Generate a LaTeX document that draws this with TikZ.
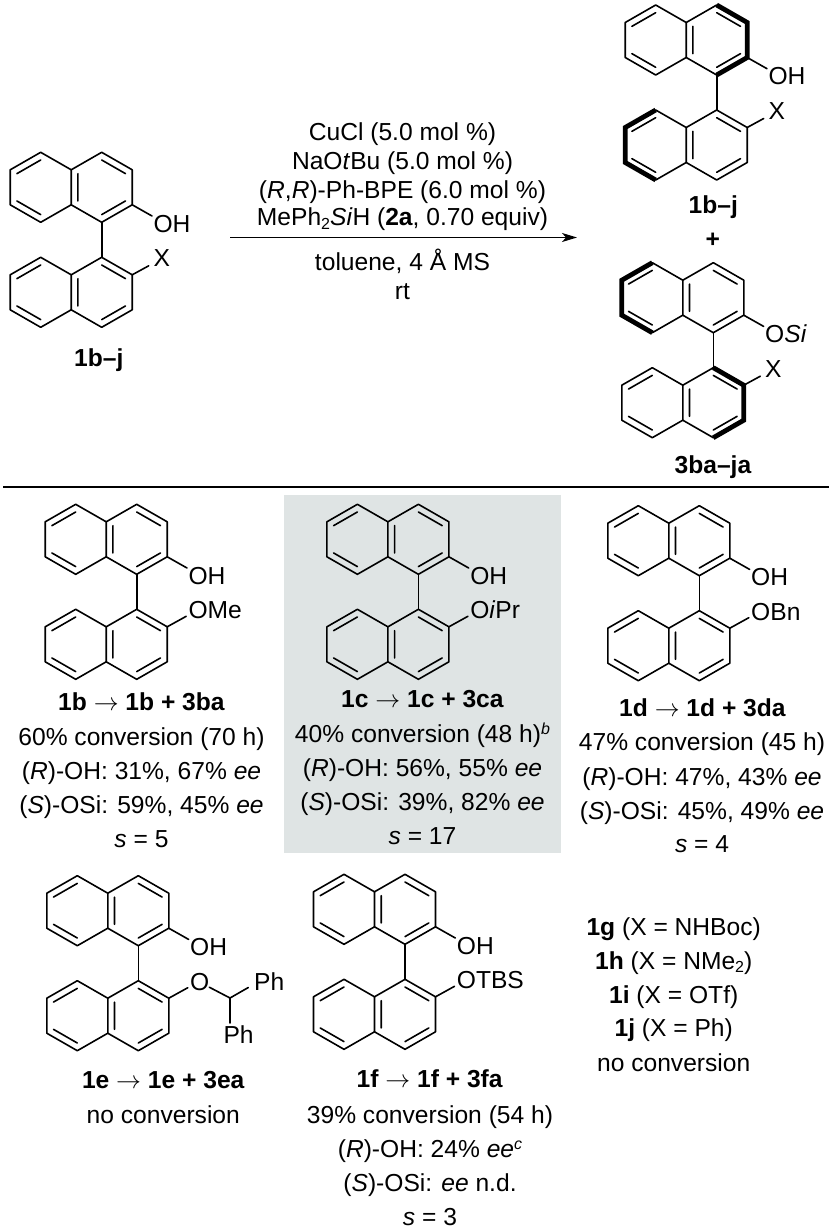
\documentclass[tikz,border=0pt]{standalone}
\usepackage{fontspec}
\setmainfont{Liberation Sans}
\usetikzlibrary{arrows.meta}
\definecolor{panel}{HTML}{DFE4E4}
\tikzset{
  bond/.style={line width=1.6pt,line join=round,line cap=round,black},
  boldbond/.style={line width=4.8pt,line join=miter,line cap=butt,black},
  txt/.style={anchor=base,inner sep=0pt,font=\fontsize{24.6}{30}\selectfont,text=black},
  sub/.style={anchor=base west,inner sep=0pt,font=\fontsize{24.6}{30}\selectfont,text=black},
  rulel/.style={line width=1.6pt,black},
  rxn/.style={line width=1.5pt,black,-{Stealth[length=15pt,width=9pt,inset=4pt]}},
}
\newcommand{\rar}{\ensuremath{\rightarrow}}
\newcommand{\sbs}[1]{\raisebox{-0.3ex}{\fontsize{16}{16}\selectfont #1}}
\newcommand{\sps}[1]{\raisebox{0.6ex}{\fontsize{16}{16}\selectfont\itshape #1}}
\newcommand{\tl}[4]{\node[txt] (#1) at (#2,#3) {#4};}
\newcommand{\bR}{\draw[boldbond] (0,-70)--(30.5,-52.5)--(30.5,-17.5)--(0,0);}
\newcommand{\bL}{\draw[boldbond] (-61,0)--(-91.5,-17.5)--(-91.5,-52.5)--(-61,-70);}
\newcommand{\bN}{\relax}
\newcommand{\naph}[1]{%
  \draw[bond] (0,0)--(30.5,-17.5)--(30.5,-52.5)--(0,-70)--(-30.5,-52.5)--(-30.5,-17.5)--cycle;
  \draw[bond] (-30.5,-52.5)--(-61,-70)--(-91.5,-52.5)--(-91.5,-17.5)--(-61,0)--(-30.5,-17.5);
  \draw[bond] (0,-7.7)--(23.8,-21.35) (23.8,-48.65)--(0,-62.3) (-23.8,-48.65)--(-23.8,-21.35);
  \draw[bond] (-61,-62.3)--(-84.8,-48.65) (-84.8,-21.35)--(-61,-7.7);
  #1}
% name, x, y (of C1), upper bold, lower bold, upper label, lower label, lower bond end x, y
\newcommand{\mol}[9]{%
  \begin{scope}[shift={(#2,#3)}]
    \naph{#4}
    \begin{scope}[shift={(0,35)},yscale=-1]\naph{#5}\end{scope}
    \coordinate (#1c) at (0,0);
    \coordinate (#1cp) at (0,35);
    \coordinate (#1c2) at (30.5,-17.5);
    \coordinate (#1c2p) at (30.5,52.5);
    \coordinate (#1e) at (50.3,-6.3);
    \coordinate (#1ep) at (#8,#9);
    \draw[bond] (#1c)--(#1cp);
    \draw[bond] (#1c2)--(#1e);
    \draw[bond] (#1c2p)--(#1ep);
    \node[sub] (#1u) at (51.7,9.7) {#6};
    \node[sub] (#1l) at (51.7,44.3) {#7};
  \end{scope}}
\begin{document}
\begin{tikzpicture}[x=1pt,y=-1pt]
\useasboundingbox (0,0) rectangle (829,1228);
\fill[panel] (284,494.7) rectangle (560.7,853);
% top scheme
\mol{a}{101.7}{222.3}{\bN}{\bN}{OH}{X}{47}{43.5}
\tl{la}{98.8}{366.7}{\textbf{1b–j}}
\mol{b}{716.7}{75}{\bR}{\bL}{OH}{X}{47}{43.5}
\tl{lb}{713.3}{213.3}{\textbf{1b–j}}
\tl{plus}{712.7}{247.5}{\textbf{+}}
\mol{c}{713.3}{332.7}{\bL}{\bR}{O\textit{Si}}{X}{47}{43.5}
\tl{lc}{713}{473.3}{\textbf{3ba–ja}}
\coordinate (ar1) at (230,237.5);
\coordinate (ar2) at (577,237.5);
\draw[rxn] (ar1)--(ar2);
\tl{r1}{402.5}{140}{CuCl (5.0 mol \%)}
\tl{r2}{402.5}{169}{NaO\textit{t}Bu (5.0 mol \%)}
\tl{r3}{402.5}{198}{(\textit{R},\textit{R})-Ph-BPE (6.0 mol \%)}
\tl{r4}{402.5}{225.5}{MePh\sbs{2}\textit{Si}H (\textbf{2a}, 0.70 equiv)}
\tl{r5}{402.5}{270.7}{toluene, 4 Å MS}
\tl{r6}{402.5}{299}{rt}
\coordinate (ru1) at (3,486.7);
\coordinate (ru2) at (829,486.7);
\draw[rulel] (ru1)--(ru2);
% 1b
\mol{d}{136.7}{574.3}{\bN}{\bN}{OH}{OMe}{49.5}{42}
\tl{d1}{141.5}{710}{\textbf{1b} \rar{} \textbf{1b + 3ba}}
\tl{d2}{141.5}{745}{60\% conversion (70 h)}
\tl{d3}{141.5}{779}{(\textit{R})-OH: 31\%, 67\% \textit{ee}}
\tl{d4}{141.5}{813}{(\textit{S})-OSi: 59\%, 45\% \textit{ee}}
\tl{d5}{141.5}{847}{\textit{s} = 5}
% 1c
\mol{e}{418.4}{574.3}{\bN}{\bN}{OH}{O\textit{i}Pr}{49.5}{42}
\tl{e1}{422.5}{707.7}{\textbf{1c} \rar{} \textbf{1c + 3ca}}
\tl{e2}{422.5}{742}{40\% conversion (48 h)\sps{b}}
\tl{e3}{422.5}{776}{(\textit{R})-OH: 56\%, 55\% \textit{ee}}
\tl{e4}{422.5}{810}{(\textit{S})-OSi: 39\%, 82\% \textit{ee}}
\tl{e5}{422.5}{844}{\textit{s} = 17}
% 1d
\mol{f}{699.3}{575.7}{\bN}{\bN}{OH}{OBn}{49.5}{42}
\tl{f1}{702.5}{716}{\textbf{1d} \rar{} \textbf{1d + 3da}}
\tl{f2}{702}{750.7}{47\% conversion (45 h)}
\tl{f3}{702}{785}{(\textit{R})-OH: 47\%, 43\% \textit{ee}}
\tl{f4}{702}{819}{(\textit{S})-OSi: 45\%, 49\% \textit{ee}}
\tl{f5}{702}{852.7}{\textit{s} = 4}
% 1e
\mol{g}{138.3}{945.7}{\bN}{\bN}{OH}{O}{49.5}{42}
\coordinate (gO) at (209.3,987.2);
\coordinate (gC) at (230,998);
\coordinate (gP1) at (248.3,987.5);
\coordinate (gP2) at (230,1023);
\draw[bond] (gO)--(gC);
\draw[bond] (gC)--(gP1);
\draw[bond] (gC)--(gP2);
\node[sub] (gPh1) at (254,990.4) {Ph};
\node[sub] (gPh2) at (223.3,1043) {Ph};
\tl{g1}{163.3}{1088.5}{\textbf{1e} \rar{} \textbf{1e + 3ea}}
\tl{g2}{163.3}{1123.3}{no conversion}
% 1f
\mol{h}{405}{944.3}{\bN}{\bN}{OH}{OTBS}{49.5}{42}
\tl{h1}{429.7}{1087.3}{\textbf{1f} \rar{} \textbf{1f + 3fa}}
\tl{h2}{430}{1123.3}{39\% conversion (54 h)}
\tl{h3}{430}{1157.3}{(\textit{R})-OH: 24\% \textit{ee}\sps{c}}
\tl{h4}{430}{1191.7}{(\textit{S})-OSi: \textit{ee} n.d.}
\tl{h5}{430}{1225}{\textit{s} = 3}
% list
\tl{i1}{673.7}{935}{\textbf{1g} (X = NHBoc)}
\tl{i2}{673.7}{969}{\textbf{1h} (X = NMe\sbs{2})}
\tl{i3}{673.7}{1003.3}{\textbf{1i} (X = OTf)}
\tl{i4}{673.7}{1036.7}{\textbf{1j} (X = Ph)}
\tl{i5}{673.7}{1071.7}{no conversion}
\end{tikzpicture}
\end{document}
